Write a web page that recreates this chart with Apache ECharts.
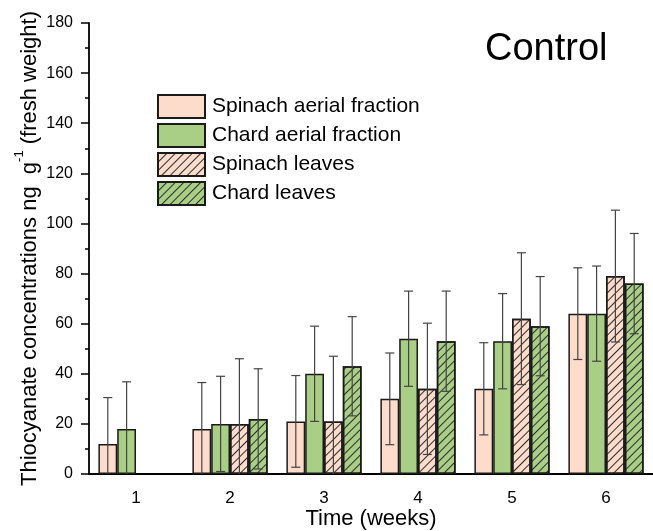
<!DOCTYPE html>
<html>
<head>
<meta charset="utf-8">
<script src="https://cdn.jsdelivr.net/npm/echarts@6/dist/echarts.min.js"></script>
<style>
html,body{margin:0;padding:0;background:#fff;}
#chart{width:653px;height:531px;}
</style>
</head>
<body>
<div id="chart"></div>
<script>
const weeks = ['1', '2', '3', '4', '5', '6'];
const seriesNames = ['Spinach aerial fraction', 'Chard aerial fraction', 'Spinach leaves', 'Chard leaves'];
const spinachAerial = [12, 18, 21, 30, 34, 64];
const spinachAerialErr = [18.5, 18.5, 18.3, 18.3, 18.4, 18.3];
const chardAerial = [18, 20, 40, 54, 53, 64];
const chardAerialErr = [18.8, 19, 19, 19, 19, 19];
const spinachLeaves = [null, 20, 21, 34, 62, 79];
const spinachLeavesErr = [null, 26, 26, 26.2, 26.3, 26.3];
const chardLeaves = [null, 22, 43, 53, 59, 76];
const chardLeavesErr = [null, 20, 19.8, 20, 19.8, 20];
const yTicks = [0, 20, 40, 60, 80, 100, 120, 140, 160, 180];

const FONT = "'Liberation Sans', Arial, sans-serif";
const PINK = '#FDDCCB';
const GREEN = '#A9CF86';
const BAR_FRAC = 0.2;
const hatch = {
  symbol: 'rect', symbolSize: 1,
  dashArrayX: [1, 0], dashArrayY: [1, 5],
  rotation: -Math.PI / 4, color: '#2a2a2a'
};

const means = [spinachAerial, chardAerial, spinachLeaves, chardLeaves];
const errs = [spinachAerialErr, chardAerialErr, spinachLeavesErr, chardLeavesErr];
const colors = [PINK, GREEN, PINK, GREEN];

const barSeries = means.map((arr, k) => ({
  name: seriesNames[k],
  type: 'bar',
  xAxisIndex: 0,
  barWidth: (BAR_FRAC * 100) + '%',
  barGap: '0%',
  data: arr.map(v => v == null ? '-' : v),
  itemStyle: Object.assign({
    color: colors[k], borderColor: '#1a1a1a', borderWidth: 1.5
  }, k >= 2 ? { decal: hatch } : {}),
  emphasis: { disabled: true },
  z: 2
}));

const errSeries = means.map((arr, k) => ({
  type: 'custom',
  xAxisIndex: 0,
  z: 5,
  silent: true,
  data: arr.map((v, i) => v == null ? null : [i, v, errs[k][i]]).filter(d => d),
  renderItem: function (params, api) {
    const cat = api.value(0), m = api.value(1), e = api.value(2);
    const band = api.size([1, 0])[0];
    const bw = band * BAR_FRAC;
    const off = (k - 1.5) * bw;
    const top = api.coord([cat, m + e]);
    const lowV = m - e;
    const bot = api.coord([cat, Math.max(0, lowV)]);
    const x = top[0] + off;
    const cap = 4.5;
    const st = { stroke: '#444', lineWidth: 1.2 };
    const ch = [
      { type: 'line', shape: { x1: x, y1: top[1], x2: x, y2: bot[1] }, style: st },
      { type: 'line', shape: { x1: x - cap, y1: top[1], x2: x + cap, y2: top[1] }, style: st }
    ];
    if (lowV > 0) {
      ch.push({ type: 'line', shape: { x1: x - cap, y1: bot[1], x2: x + cap, y2: bot[1] }, style: st });
    }
    return { type: 'group', children: ch };
  }
}));

const chart = echarts.init(document.getElementById('chart'));
chart.setOption({
  animation: false,
  backgroundColor: '#fff',
  textStyle: { fontFamily: FONT },
  title: {
    text: 'Control', left: 480, top: 26,
    textStyle: { fontFamily: FONT, fontSize: 38, fontWeight: 'normal', color: '#000' }
  },
  legend: {
    orient: 'vertical', left: 152, top: 89,
    itemWidth: 47, itemHeight: 23, itemGap: 4,
    icon: 'rect',
    data: seriesNames,
    textStyle: { fontFamily: FONT, fontSize: 21, lineHeight: 23, color: '#000', padding: [0, 0, 0, 2] },
    selectedMode: false
  },
  grid: { left: 89, right: 0, top: 23, bottom: 57, containLabel: false, outerBoundsMode: 'none' },
  xAxis: [{
    type: 'category', data: weeks,
    name: 'Time (weeks)', nameLocation: 'middle', nameGap: 34, nameMoveOverlap: false,
    nameTextStyle: { fontFamily: FONT, fontSize: 22, color: '#000' },
    axisLine: { lineStyle: { color: '#000', width: 1.8 } },
    axisTick: { alignWithLabel: true, length: 8, lineStyle: { color: '#000', width: 1.5 } },
    axisLabel: { fontFamily: FONT, fontSize: 17, color: '#000', margin: 16 },
    splitLine: { show: false }
  }, {
    type: 'category', data: weeks, position: 'bottom',
    axisLine: { show: false },
    axisTick: { alignWithLabel: false, length: 5, lineStyle: { color: '#000', width: 1.5 } },
    axisLabel: { show: false },
    splitLine: { show: false }
  }],
  yAxis: {
    type: 'value', min: yTicks[0], max: yTicks[yTicks.length - 1], interval: yTicks[1] - yTicks[0],
    name: '{n|Thiocyanate concentrations ng  g}{s|-1}{n| (fresh weight)}',
    nameLocation: 'middle', nameGap: 48, nameMoveOverlap: false,
    nameTextStyle: {
      fontFamily: FONT, fontSize: 22, color: '#000',
      rich: {
        n: { fontFamily: FONT, fontSize: 22, color: '#000', lineHeight: 28, verticalAlign: 'bottom' },
        s: { fontFamily: FONT, fontSize: 13, color: '#000', lineHeight: 28, verticalAlign: 'top' }
      }
    },
    axisLine: { show: true, lineStyle: { color: '#000', width: 1.8 } },
    axisTick: { show: true, length: 8, lineStyle: { color: '#000', width: 1.5 } },
    minorTick: { show: true, splitNumber: 2, length: 4, lineStyle: { color: '#000', width: 1.5 } },
    axisLabel: { fontFamily: FONT, fontSize: 16, color: '#000', margin: 16 },
    splitLine: { show: false }
  },
  series: barSeries.concat(errSeries)
});
</script>
</body>
</html>
